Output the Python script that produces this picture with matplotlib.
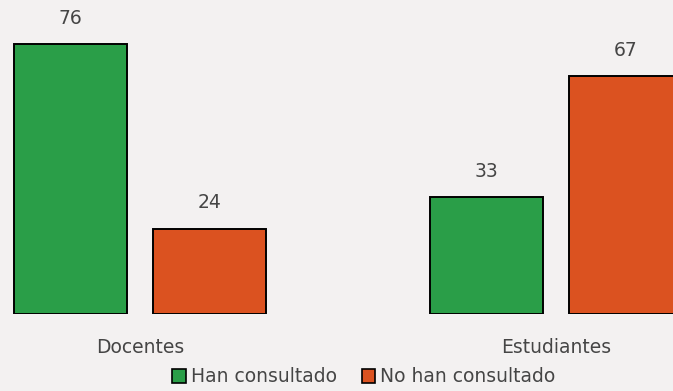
import matplotlib
matplotlib.use("Agg")
import matplotlib.pyplot as plt
from matplotlib.patches import Patch
import numpy as np

categories = ["Docentes", "Estudiantes"]
series_names = ["Han consultado", "No han consultado"]
han_consultado = [76, 33]
no_han_consultado = [24, 67]

colors = ["#2a9e48", "#db5220"]
text_color = "#454545"
bg = "#f3f1f1"

plt.rcParams["font.family"] = ["DejaVu Sans"]
fs = 13.5

fig = plt.figure(figsize=(6.73, 3.91), dpi=100, facecolor=bg)
# axes spans the full width; baseline sits 77 px above the bottom edge
ax = fig.add_axes([0, 77 / 391, 1, 314 / 391])
ax.set_facecolor(bg)

x = np.arange(len(categories))
width = 113 / 416
offset = 69.5 / 416

for vals, dx, col in [(han_consultado, -offset, colors[0]),
                      (no_han_consultado, offset, colors[1])]:
    bars = ax.bar(x + dx, vals, width, color=col, edgecolor="black", linewidth=1.4)
    for b, v in zip(bars, vals):
        ax.text(b.get_x() + b.get_width() / 2, v + 4.6, f"{v}",
                ha="center", va="bottom", fontsize=fs, color=text_color)

ax.set_xlim(-140 / 416, 533 / 416)
ax.set_ylim(0, 88.45)
ax.set_xticks(x)
ax.set_xticklabels(categories, fontsize=fs, color=text_color)
ax.tick_params(axis="x", length=0, pad=17)
ax.set_yticks([])
for s in ax.spines.values():
    s.set_visible(False)

handles = [Patch(facecolor=c, edgecolor="black", linewidth=1.2) for c in colors]
fig.legend(handles, series_names, loc="center", bbox_to_anchor=(364 / 673, 1 - 377 / 391),
           ncol=2, frameon=False, fontsize=fs, handlelength=0.7, handleheight=0.7,
           handletextpad=0.3, columnspacing=1.3, labelcolor=text_color,
           borderpad=0, borderaxespad=0)

fig.savefig("out.png", dpi=100, facecolor=bg)
